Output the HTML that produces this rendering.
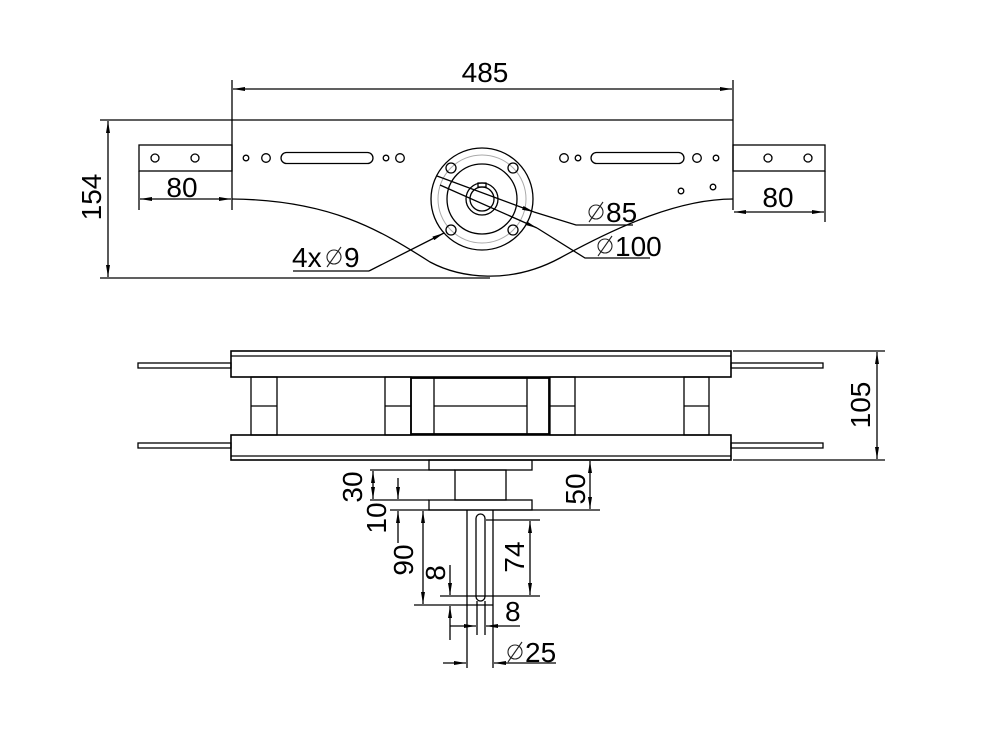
<!DOCTYPE html>
<html><head><meta charset="utf-8"><style>
html,body{margin:0;padding:0;background:#fff}
svg{display:block}
text{font-family:"Liberation Sans",sans-serif;font-size:28px;fill:#000}
</style></head><body>
<svg width="1000" height="750" viewBox="0 0 1000 750" xmlns="http://www.w3.org/2000/svg">
<defs>
<marker id="a" viewBox="0 0 12 4" refX="12" refY="2" markerWidth="12" markerHeight="4" markerUnits="userSpaceOnUse" orient="auto-start-reverse"><path d="M0,0 L12,2 L0,4 z" fill="#000"/></marker>
<g id="dia" stroke="#222" stroke-width="1.1" fill="none"><circle r="7"/><line x1="-7" y1="10" x2="7" y2="-10"/></g>
</defs>
<g stroke="#000" stroke-width="1.3" fill="none">
<line x1="232" y1="120" x2="733" y2="120"/>
<line x1="232" y1="80" x2="232" y2="210"/>
<line x1="733" y1="80" x2="733" y2="210"/>
<line x1="100" y1="278" x2="490" y2="278"/>
<line x1="100" y1="120" x2="232" y2="120"/>
<path d="M232,199 C330,200 380,230 430,262 C460,278 510,285 560,258 C620,225 680,199 733,199"/>
<rect x="139" y="145" width="93" height="26"/>
<rect x="733" y="145" width="92" height="26"/>
<circle cx="155" cy="158" r="4"/><circle cx="195" cy="158" r="4"/>
<circle cx="768" cy="158" r="4"/><circle cx="808" cy="158" r="4"/>
<circle cx="246" cy="158" r="2.8"/><circle cx="266" cy="158" r="4.3"/>
<rect x="281" y="152.5" width="92" height="11" rx="5.5"/>
<circle cx="386" cy="158" r="2.8"/><circle cx="400" cy="158" r="4.3"/>
<circle cx="564" cy="158" r="4.3"/><circle cx="578" cy="158" r="2.8"/>
<rect x="591" y="152.5" width="93" height="11" rx="5.5"/>
<circle cx="697" cy="158" r="4.3"/><circle cx="716" cy="158" r="2.8"/>
<circle cx="681" cy="191" r="2.8"/><circle cx="713" cy="187" r="2.8"/>
<circle cx="482" cy="199" r="51"/>
<circle cx="482" cy="199" r="44" stroke="#aaa" stroke-width="1"/>
<circle cx="482" cy="199" r="35"/>
<circle cx="482" cy="199" r="16"/>
<circle cx="482" cy="199" r="12"/>
<rect x="478" y="183" width="8" height="4"/>
<circle cx="451" cy="168" r="5"/><circle cx="513" cy="168" r="5"/>
<circle cx="451" cy="230" r="5"/><circle cx="513" cy="230" r="5"/>
<line x1="437" y1="176" x2="534" y2="212" marker-end="url(#a)"/>
<polyline points="534,212 576,225 633,225"/>
<line x1="440" y1="185" x2="537" y2="228" marker-end="url(#a)"/>
<polyline points="537,228 585,258 650,258"/>
<line x1="369" y1="271" x2="444" y2="233" marker-end="url(#a)"/>
<line x1="293" y1="271" x2="369" y2="271"/>
<line x1="233" y1="89" x2="732" y2="89" marker-start="url(#a)" marker-end="url(#a)"/>
<line x1="108" y1="121" x2="108" y2="277" marker-start="url(#a)" marker-end="url(#a)"/>
<line x1="139" y1="171" x2="139" y2="210"/>
<line x1="140" y1="199" x2="231" y2="199" marker-start="url(#a)" marker-end="url(#a)"/>
<line x1="825" y1="171" x2="825" y2="222"/>
<line x1="734" y1="212" x2="824" y2="212" marker-start="url(#a)" marker-end="url(#a)"/>
<rect x="231" y="351" width="500" height="26" stroke-width="1.6"/>
<line x1="231" y1="356" x2="731" y2="356"/>
<rect x="231" y="435" width="500" height="25" stroke-width="1.6"/>
<line x1="231" y1="456" x2="731" y2="456"/>
<rect x="138" y="363" width="93" height="5"/>
<rect x="138" y="443" width="93" height="5"/>
<rect x="731" y="363" width="92" height="5"/>
<rect x="731" y="443" width="92" height="5"/>
<rect x="251" y="377" width="26" height="58"/><line x1="251" y1="406" x2="277" y2="406"/>
<rect x="385" y="377" width="26" height="58"/><line x1="385" y1="406" x2="411" y2="406"/>
<rect x="550" y="377" width="25" height="58"/><line x1="550" y1="406" x2="575" y2="406"/>
<rect x="684" y="377" width="25" height="58"/><line x1="684" y1="406" x2="709" y2="406"/>
<rect x="411" y="378" width="138" height="56" stroke-width="1.8"/>
<line x1="434" y1="378" x2="434" y2="434"/><line x1="527" y1="378" x2="527" y2="434"/>
<line x1="434" y1="406" x2="527" y2="406"/>
<line x1="733" y1="351" x2="885" y2="351"/>
<line x1="733" y1="460" x2="885" y2="460"/>
<line x1="877" y1="352" x2="877" y2="459" marker-start="url(#a)" marker-end="url(#a)"/>
<rect x="429" y="460" width="103" height="10"/>
<rect x="455" y="470" width="51" height="30"/>
<rect x="429" y="500" width="103" height="10"/>
<line x1="467" y1="510" x2="467" y2="668"/>
<line x1="493" y1="510" x2="493" y2="668"/>
<rect x="476" y="514" width="9" height="87" rx="4.5"/>
<line x1="477" y1="601" x2="477" y2="635"/>
<line x1="485" y1="601" x2="485" y2="635"/>
<line x1="370" y1="470" x2="455" y2="470"/>
<line x1="370" y1="500" x2="429" y2="500"/>
<line x1="390" y1="510" x2="600" y2="510"/>
<line x1="373" y1="471" x2="373" y2="499" marker-start="url(#a)" marker-end="url(#a)"/>
<line x1="398" y1="478" x2="398" y2="499" marker-end="url(#a)"/>
<line x1="398" y1="543" x2="398" y2="511" marker-end="url(#a)"/>
<line x1="533" y1="460" x2="600" y2="460"/>
<line x1="590" y1="461" x2="590" y2="509" marker-start="url(#a)" marker-end="url(#a)"/>
<line x1="423" y1="511" x2="423" y2="604" marker-start="url(#a)" marker-end="url(#a)"/>
<line x1="414" y1="605" x2="493" y2="605"/>
<line x1="486" y1="520" x2="540" y2="520"/>
<line x1="440" y1="596" x2="540" y2="596"/>
<line x1="530" y1="521" x2="530" y2="595" marker-start="url(#a)" marker-end="url(#a)"/>
<line x1="450" y1="565" x2="450" y2="595" marker-end="url(#a)"/>
<line x1="450" y1="640" x2="450" y2="606" marker-end="url(#a)"/>
<line x1="450" y1="626" x2="476" y2="626" marker-end="url(#a)"/>
<line x1="520" y1="626" x2="486" y2="626" marker-end="url(#a)"/>
<line x1="443" y1="663" x2="466" y2="663" marker-end="url(#a)"/>
<line x1="556" y1="663" x2="494" y2="663" marker-end="url(#a)"/>
</g>
<use href="#dia" x="334" y="257"/>
<use href="#dia" x="596" y="212"/>
<use href="#dia" x="605" y="246"/>
<use href="#dia" x="515" y="652"/>
<text x="485" y="82" text-anchor="middle">485</text>
<text x="182" y="197" text-anchor="middle">80</text>
<text x="778" y="207" text-anchor="middle">80</text>
<text transform="translate(101,197) rotate(-90)" text-anchor="middle">154</text>
<text x="292" y="267">4x</text><text x="344" y="267">9</text>
<text x="606" y="222">85</text>
<text x="615" y="256">100</text>
<text transform="translate(870,405) rotate(-90)" text-anchor="middle">105</text>
<text transform="translate(362,487) rotate(-90)" text-anchor="middle">30</text>
<text transform="translate(386,518) rotate(-90)" text-anchor="middle">10</text>
<text transform="translate(585,489) rotate(-90)" text-anchor="middle">50</text>
<text transform="translate(413,560) rotate(-90)" text-anchor="middle">90</text>
<text transform="translate(445,573) rotate(-90)" text-anchor="middle">8</text>
<text transform="translate(524,557) rotate(-90)" text-anchor="middle">74</text>
<text x="505" y="621">8</text>
<text x="525" y="662">25</text>
</svg>
</body></html>
